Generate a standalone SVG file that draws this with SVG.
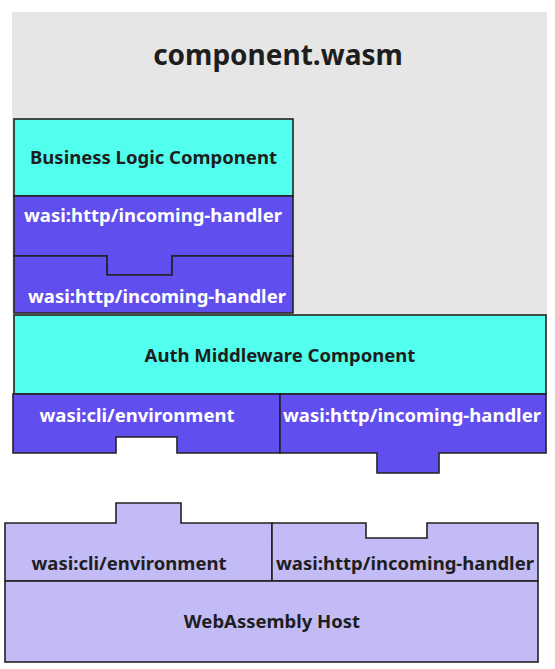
<svg xmlns="http://www.w3.org/2000/svg" width="555" height="669" viewBox="0 0 555 669">
  <style>
    .lbl { font-family: "Noto Sans", "Open Sans", "Liberation Sans", sans-serif; font-weight: bold; text-anchor: middle; }
    .dark { fill: #1e1e1e; font-size: 18.5px; }
    .light { fill: #ffffff; font-size: 18.5px; }
    .title { fill: #1e1e1e; font-size: 28px; }
    .edge { stroke: #222222; stroke-width: 1.6; stroke-linejoin: miter; }
    .cyan { fill: #52FFEE; }
    .purple { fill: #604EEE; }
    .lav { fill: #C3BBF5; }
  </style>
  <rect width="555" height="669" fill="#ffffff"/>
  <g id="component-wasm">
    <rect x="12" y="12" width="535" height="303" fill="#E6E6E6"/>
    <text class="lbl title" x="278" y="65">component.wasm</text>
  </g>
  <g id="business-logic">
    <rect class="cyan edge" x="14" y="119" width="279" height="77"/>
    <text class="lbl dark" x="153.5" y="164">Business Logic Component</text>
  </g>
  <g id="business-export-http">
    <path class="purple edge" d="M14,196 H293 V256 H172 V275 H107 V256 H14 Z"/>
    <text class="lbl light" x="153" y="222">wasi:http/incoming-handler</text>
  </g>
  <g id="auth-import-http">
    <path class="purple edge" d="M14,256 H107 V275 H172 V256 H293 V313 H14 Z"/>
    <text class="lbl light" x="157" y="303">wasi:http/incoming-handler</text>
  </g>
  <g id="auth-middleware">
    <rect class="cyan edge" x="14" y="315" width="532" height="79"/>
    <text class="lbl dark" x="280" y="362">Auth Middleware Component</text>
  </g>
  <g id="auth-import-cli">
    <path class="purple edge" d="M13,394 H280 V453 H177 V437 H116 V453 H13 Z"/>
    <text class="lbl light" x="137" y="422">wasi:cli/environment</text>
  </g>
  <g id="auth-export-http">
    <path class="purple edge" d="M280,394 H546 V453 H439 V473 H377 V453 H280 Z"/>
    <text class="lbl light" x="412" y="422">wasi:http/incoming-handler</text>
  </g>
  <g id="host-export-cli">
    <path class="lav edge" d="M5,523 H116 V503 H181 V523 H272 V581 H5 Z"/>
    <text class="lbl dark" x="129" y="570">wasi:cli/environment</text>
  </g>
  <g id="host-import-http">
    <path class="lav edge" d="M272,523 H366 V538 H427 V523 H538 V581 H272 Z"/>
    <text class="lbl dark" x="405" y="570">wasi:http/incoming-handler</text>
  </g>
  <g id="webassembly-host">
    <rect class="lav edge" x="5" y="581" width="533" height="81"/>
    <text class="lbl dark" x="272" y="628">WebAssembly Host</text>
  </g>
  <g id="connectors"/>
</svg>
